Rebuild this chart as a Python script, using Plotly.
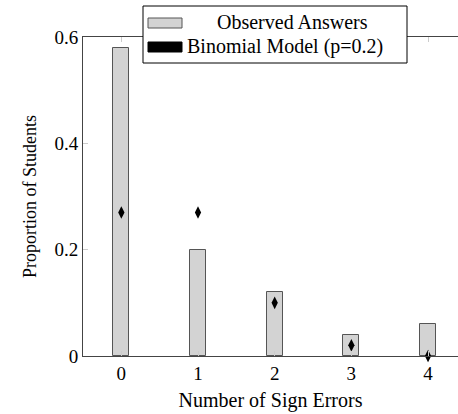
import plotly.graph_objects as go

errors = [0, 1, 2, 3, 4]
observed = [0.58, 0.20, 0.12, 0.04, 0.06]
binomial = [0.27, 0.27, 0.10, 0.02, 0.00]
y_ticks = [0, 0.2, 0.4, 0.6]
y_tick_labels = ["0", "0.2", "0.4", "0.6"]

FONT = "Liberation Serif"
W, H = 458, 414
L, R, T, B = 83, 0, 37, 58

fig = go.Figure()
fig.add_trace(go.Bar(x=errors, y=observed, width=0.21, name="Observed Answers",
                     marker=dict(color="#d3d3d3", line=dict(color="#555555", width=1)),
                     showlegend=False))
fig.add_trace(go.Scatter(x=errors, y=binomial, mode="markers", name="Binomial Model (p=0.2)",
                         marker=dict(symbol="diamond-tall", size=9, color="black"),
                         showlegend=False, cliponaxis=False))

pw = W - L - R
ph = H - T - B
def px(x):
    return (x - L) / pw
def py(y):
    return (H - B - y) / ph

shapes = [
    dict(type="rect", xref="paper", yref="paper", x0=px(143), x1=px(407), y0=py(63), y1=py(6),
         fillcolor="white", line=dict(color="black", width=1), layer="above"),
    dict(type="rect", xref="paper", yref="paper", x0=px(148), x1=px(182), y0=py(28), y1=py(18),
         fillcolor="#d3d3d3", line=dict(color="#555555", width=1), layer="above"),
    dict(type="rect", xref="paper", yref="paper", x0=px(148), x1=px(182), y0=py(52), y1=py(42),
         fillcolor="black", line=dict(color="black", width=1), layer="above"),
]
annotations = [
    dict(xref="paper", yref="paper", x=px(292), y=py(22), text="Observed Answers",
         showarrow=False, xanchor="center", yanchor="middle", font=dict(size=20, color="black", family=FONT)),
    dict(xref="paper", yref="paper", x=px(185), y=py(46), text="Binomial Model (p=0.2)",
         showarrow=False, xanchor="left", yanchor="middle", font=dict(size=20, color="black", family=FONT)),
]

fig.update_layout(
    width=W, height=H,
    margin=dict(l=L, r=R, t=T, b=B),
    plot_bgcolor="white", paper_bgcolor="white",
    font=dict(family=FONT, size=20, color="black"),
    shapes=shapes, annotations=annotations,
    bargap=0,
)
fig.update_xaxes(range=[-0.5, -0.5 + pw / 76.675], tickvals=errors, ticktext=[str(e) for e in errors],
                 showline=True, linecolor="#444444", linewidth=1, mirror="ticks",
                 ticks="inside", ticklen=5, tickcolor="#cccccc", showgrid=False, zeroline=False,
                 title=dict(text="Number of Sign Errors", standoff=10, font=dict(size=20)),
                 tickfont=dict(size=19), automargin=False)
fig.update_yaxes(range=[0, 0.6], tickvals=y_ticks, ticktext=y_tick_labels,
                 showline=True, linecolor="#444444", linewidth=1, mirror=False,
                 ticks="inside", ticklen=5, tickcolor="#cccccc", showgrid=False, zeroline=False,
                 title=dict(text="Proportion of Students", standoff=13, font=dict(size=18)),
                 tickfont=dict(size=19), automargin=False)

fig.write_html("out.html", config={"displayModeBar": False},
               post_script="document.body.style.margin='0';document.body.style.padding='0';document.body.style.overflow='hidden';")
